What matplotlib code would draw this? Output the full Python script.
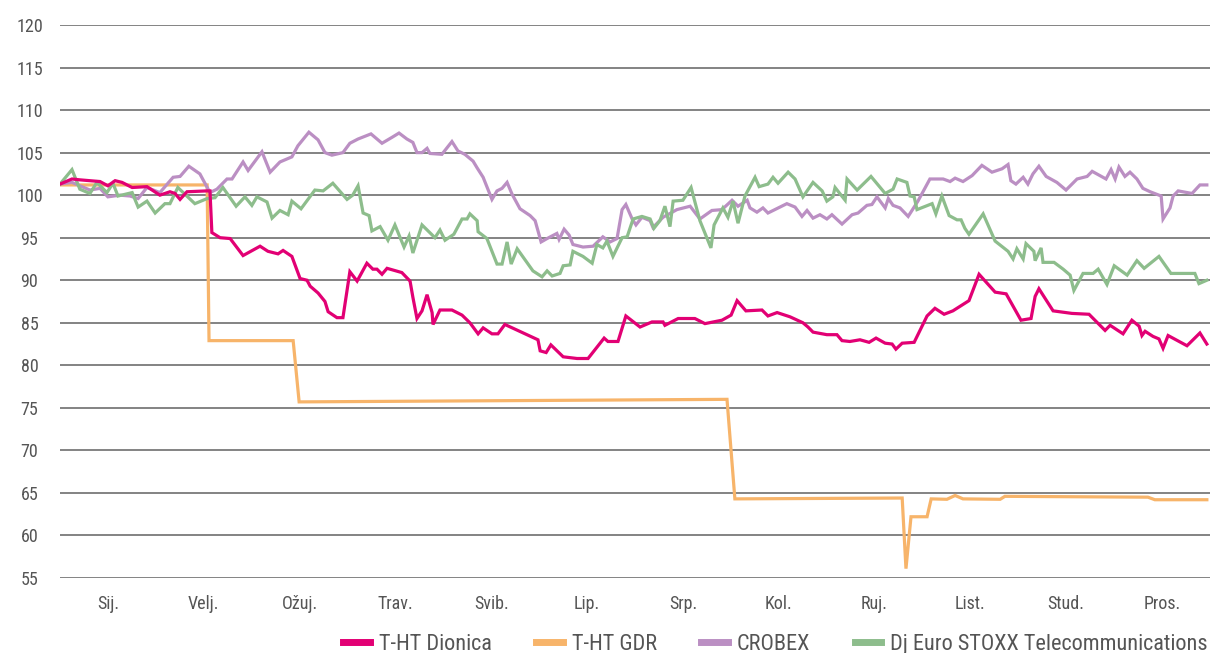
import matplotlib
matplotlib.use("Agg")
import matplotlib.pyplot as plt
from matplotlib import font_manager as fm
from matplotlib.lines import Line2D

# ---------------- data (x = day of year, y = index) ----------------
months = ["Sij.", "Velj.", "Ožuj.", "Trav.", "Svib.", "Lip.", "Srp.", "Kol.", "Ruj.", "List.", "Stud.", "Pros."]
series_names = ["T-HT Dionica", "T-HT GDR", "CROBEX", "Dj Euro STOXX Telecommunications"]

tht_x = [0, 3.8, 6.3, 12.7, 15.2, 17.5, 19.7, 22.9, 27.6, 31.7, 34.9, 36.5, 38.1, 40.3, 46.7, 47.6, 48.2,
         50.8, 54.0, 58.1, 63.5, 66.0, 69.2, 70.8, 73.6, 76.2, 78.4, 79.4, 81.9, 84.1, 85.1, 87.9, 89.8,
         92.0, 94.3, 97.4, 99.3, 100.6, 102.2, 103.8, 108.5, 111.1, 112.0, 113.3, 114.9, 116.5, 118.1,
         118.4, 120.6, 124.4, 127.6, 130.1, 132.7, 134.3, 137.1, 139.0, 141.2, 151.7, 152.4, 154.3, 155.8,
         159.7, 164.1, 167.6, 172.7, 173.9, 177.1, 179.6, 184.1, 187.9, 191.4, 192.0, 196.2, 201.5, 204.7,
         210.1, 213.0, 214.9, 217.7, 222.8, 224.7, 227.6, 231.7, 235.8, 237.4, 239.0, 243.4, 246.6, 248.2,
         250.7, 253.9, 256.8, 259.0, 261.9, 264.1, 265.3, 267.3, 271.1, 275.2, 277.7, 280.6, 283.4, 288.5,
         291.7, 296.8, 300.3, 305.0, 308.2, 309.5, 310.7, 315.2, 321.2, 326.6, 331.7, 333.3, 337.4, 340.2,
         342.5, 343.4, 344.4, 346.9, 348.8, 350.1, 351.7, 357.7, 361.8, 364.0]
tht_y = [101.3, 101.9, 101.8, 101.6, 101.1, 101.7, 101.5, 100.9, 101.0, 100.0, 100.4, 100.2, 99.5, 100.4,
         100.5, 100.5, 95.6, 95.0, 94.9, 92.9, 94.0, 93.4, 93.1, 93.5, 92.8, 90.2, 90.0, 89.3, 88.5, 87.5,
         86.3, 85.6, 85.6, 91.0, 89.9, 92.0, 91.3, 91.3, 90.7, 91.4, 90.9, 89.9, 88.0, 85.5, 86.4, 88.3,
         86.2, 84.8, 86.5, 86.5, 85.9, 85.0, 83.7, 84.4, 83.7, 83.7, 84.8, 83.0, 81.7, 81.5, 82.4, 81.0,
         80.8, 80.8, 83.2, 82.8, 82.8, 85.8, 84.5, 85.1, 85.1, 84.7, 85.5, 85.5, 84.9, 85.3, 85.9, 87.6,
         86.4, 86.5, 85.8, 86.2, 85.7, 85.0, 84.5, 83.9, 83.6, 83.6, 82.9, 82.8, 83.0, 82.7, 83.2, 82.6,
         82.5, 81.9, 82.6, 82.7, 85.8, 86.7, 86.0, 86.4, 87.6, 90.7, 88.6, 88.4, 85.3, 85.5, 88.1, 89.0,
         86.4, 86.1, 86.0, 84.1, 84.7, 83.7, 85.3, 84.6, 83.5, 84.0, 83.4, 83.1, 82.0, 83.5, 82.3, 83.8, 82.5]

gdr_x = [0, 46.7, 47.3, 74.0, 75.9, 211.7, 214.2, 267.3, 268.5, 270.1, 275.2, 276.5, 281.5, 284.1, 286.6,
         298.4, 299.9, 345.3, 347.5, 364.0]
gdr_y = [101.2, 101.2, 82.9, 82.9, 75.7, 76.0, 64.3, 64.4, 56.1, 62.2, 62.2, 64.3, 64.25, 64.7, 64.3,
         64.25, 64.6, 64.5, 64.2, 64.2]

crobex_x = [0, 3.8, 9.5, 12.7, 15.2, 19.0, 22.2, 24.8, 27.6, 31.7, 35.9, 38.1, 40.9, 44.4, 47.6, 49.8, 53.0,
            54.6, 58.1, 59.7, 64.1, 66.7, 69.8, 73.6, 75.5, 79.0, 81.9, 84.1, 86.3, 89.8, 92.0, 94.6, 98.7,
            102.2, 105.4, 107.6, 110.1, 112.0, 113.3, 114.9, 116.5, 117.4, 121.2, 124.4, 126.3, 128.5, 131.1,
            132.4, 134.3, 137.1, 138.7, 140.3, 141.9, 143.5, 146.0, 149.2, 150.8, 152.7, 154.6, 157.7, 158.4,
            160.0, 161.6, 162.8, 166.0, 169.2, 172.3, 174.6, 176.8, 178.4, 179.6, 181.6, 182.8, 184.7, 187.3,
            188.2, 191.4, 195.8, 200.0, 203.1, 206.9, 210.1, 213.3, 215.2, 218.1, 219.0, 221.2, 223.1, 224.7,
            230.7, 233.3, 235.5, 237.1, 239.0, 241.2, 243.4, 245.0, 248.2, 251.4, 253.3, 256.1, 257.7, 259.3,
            261.9, 262.9, 264.4, 266.6, 269.2, 272.3, 276.1, 280.3, 282.5, 284.1, 286.6, 289.5, 292.6, 295.8,
            299.0, 300.9, 301.8, 303.4, 305.7, 307.2, 308.8, 310.7, 313.0, 316.4, 319.3, 322.8, 326.0, 327.6,
            332.0, 333.6, 334.9, 336.1, 338.0, 339.6, 341.8, 343.7, 346.0, 349.5, 350.1, 352.3, 353.3, 354.9,
            359.3, 361.8, 364.0]
crobex_y = [101.3, 101.5, 100.6, 100.8, 99.8, 100.0, 99.9, 99.6, 100.9, 100.3, 102.1, 102.2, 103.4, 102.5,
            100.3, 100.7, 101.9, 101.9, 103.9, 102.9, 105.1, 102.7, 103.9, 104.5, 105.8, 107.4, 106.5, 105.0,
            104.7, 105.0, 106.1, 106.6, 107.2, 106.1, 106.8, 107.3, 106.6, 106.2, 105.0, 105.0, 105.5, 104.9,
            104.8, 106.3, 105.2, 104.8, 104.0, 103.2, 102.1, 99.5, 100.5, 100.8, 101.5, 100.1, 98.4, 97.6,
            97.0, 94.5, 94.9, 95.5, 94.8, 96.0, 95.3, 94.2, 93.9, 94.0, 95.1, 94.5, 94.9, 98.3, 98.9, 97.2,
            96.5, 97.4, 97.0, 96.2, 97.4, 98.3, 98.7, 97.2, 98.2, 98.3, 99.4, 98.7, 99.4, 98.5, 98.0, 98.5,
            97.9, 99.0, 98.6, 97.5, 98.2, 97.3, 97.7, 97.2, 97.7, 96.6, 97.7, 97.9, 98.8, 98.9, 99.8, 98.5,
            99.6, 98.8, 98.5, 97.5, 99.3, 101.9, 101.9, 101.6, 102.0, 101.6, 102.3, 103.5, 102.7, 103.1,
            103.6, 101.7, 101.3, 102.1, 101.3, 102.5, 103.4, 102.2, 101.5, 100.6, 101.9, 102.2, 102.8, 101.9,
            103.0, 101.9, 103.3, 102.2, 102.7, 101.9, 100.8, 100.4, 99.9, 97.2, 98.5, 99.9, 100.5, 100.2,
            101.2, 101.2]

stoxx_x = [0, 3.8, 6.3, 9.5, 11.7, 14.9, 16.8, 18.4, 22.9, 24.8, 27.6, 30.2, 33.3, 34.9, 37.4, 42.8, 46.7,
           49.2, 51.7, 55.9, 58.7, 60.9, 62.5, 65.7, 67.3, 69.8, 72.4, 73.6, 76.5, 80.9, 83.5, 86.6, 91.1,
           92.9, 94.6, 96.2, 98.1, 99.0, 101.6, 104.1, 106.3, 109.2, 110.8, 112.0, 114.9, 119.0, 120.6, 122.2,
           125.0, 127.6, 129.2, 130.1, 132.4, 132.7, 135.5, 138.7, 140.3, 141.9, 143.2, 145.1, 150.1, 153.0,
           154.6, 156.2, 158.7, 159.7, 161.9, 162.8, 166.0, 168.9, 170.4, 172.3, 173.6, 175.5, 178.4, 180.0,
           181.9, 184.7, 187.3, 188.5, 190.4, 192.0, 193.6, 194.6, 197.7, 200.3, 203.1, 206.6, 207.6, 210.4,
           212.0, 213.6, 215.2, 217.4, 220.6, 221.9, 224.7, 226.3, 227.9, 231.1, 233.3, 235.8, 239.0, 241.9,
           243.4, 245.3, 246.0, 249.2, 249.8, 253.0, 257.4, 261.9, 264.4, 265.7, 268.8, 269.8, 271.1, 272.0,
           276.8, 278.0, 279.9, 282.2, 284.7, 286.0, 287.2, 288.5, 293.0, 296.8, 300.9, 302.5, 303.7, 305.7,
           306.6, 309.1, 309.5, 311.4, 312.0, 315.5, 318.4, 320.6, 321.8, 324.7, 327.9, 329.5, 332.3, 334.6,
           338.7, 341.8, 344.1, 348.8, 352.6, 360.2, 361.5, 364.0]
stoxx_y = [101.3, 103.0, 100.7, 100.2, 101.5, 100.3, 101.4, 99.9, 100.3, 98.6, 99.3, 97.9, 99.0, 99.0, 100.9,
           99.0, 99.6, 99.7, 100.9, 98.7, 99.8, 98.8, 99.8, 99.2, 97.3, 98.2, 97.7, 99.3, 98.4, 100.6, 100.5,
           101.4, 99.5, 100.0, 101.1, 97.9, 97.6, 95.8, 96.3, 94.7, 96.5, 93.9, 95.2, 93.2, 96.5, 95.0, 95.9,
           94.7, 95.4, 97.2, 97.2, 97.8, 97.0, 95.7, 94.9, 91.9, 91.9, 94.5, 91.9, 93.7, 91.1, 90.4, 91.1,
           90.5, 90.8, 91.7, 91.8, 93.4, 92.8, 92.0, 94.2, 93.8, 94.6, 92.8, 95.0, 95.1, 97.2, 97.5, 97.2,
           96.1, 97.0, 98.7, 96.3, 99.3, 99.4, 100.9, 97.0, 93.8, 96.5, 98.5, 97.4, 99.3, 96.7, 99.9, 102.1,
           101.0, 101.3, 102.1, 101.4, 102.7, 101.9, 99.8, 101.5, 100.5, 99.3, 99.8, 100.9, 99.4, 101.9,
           100.6, 102.2, 100.2, 100.7, 101.9, 101.5, 99.9, 99.8, 98.3, 99.0, 97.8, 99.9, 97.6, 97.1, 97.1,
           96.1, 95.4, 97.8, 94.6, 93.4, 92.5, 93.7, 92.5, 94.3, 93.4, 92.3, 93.8, 92.1, 92.1, 91.3, 90.6,
           88.8, 90.8, 90.8, 91.3, 89.5, 91.7, 90.6, 92.3, 91.4, 92.8, 90.8, 90.8, 89.6, 90.0]

y_ticks = list(range(55, 121, 5))

# ---------------- styling ----------------
colors = ["#E20074", "#F7B46A", "#BB8FC3", "#8DBD8C"]

available = {f.name for f in fm.fontManager.ttflist}
family = "DejaVu Sans"
for cand in ["Liberation Sans Narrow", "Roboto Condensed", "Roboto", "Liberation Sans"]:
    if cand in available:
        family = cand
        break
plt.rcParams["font.family"] = [family, "DejaVu Sans"]

fig = plt.figure(figsize=(12.11, 6.53), dpi=100)
ax = fig.add_axes([60 / 1211, 75 / 653, 1150 / 1211, 553 / 653])

for yv in y_ticks:
    ax.axhline(yv, color="#6e6e6e", lw=1.2, zorder=1)

xs = [tht_x, gdr_x, crobex_x, stoxx_x]
ys = [tht_y, gdr_y, crobex_y, stoxx_y]
order = [1, 2, 3, 0]
for i in order:
    ax.plot(xs[i], ys[i], color=colors[i], lw=2.3, zorder=3 + (i == 0),
            solid_joinstyle="miter")

ax.set_xlim(0, 365)
ax.set_ylim(55, 120)
ax.set_yticks(y_ticks)
ax.set_yticklabels([str(v) for v in y_ticks])
ax.set_xticks([(i + 0.5) * 365 / 12 for i in range(12)])
ax.set_xticklabels(months)
ax.tick_params(axis="both", length=0, labelsize=13, colors="#555555")
ax.tick_params(axis="y", pad=22)
for lab in ax.get_yticklabels():
    lab.set_horizontalalignment("center")
ax.tick_params(axis="x", pad=12)
for s in ax.spines.values():
    s.set_visible(False)

handles = [Line2D([0], [0], color=c, lw=5) for c in colors]
fig.legend(handles, series_names, loc="lower right", bbox_to_anchor=(1.014, -0.034), ncol=4,
           frameon=False, fontsize=16, handlelength=1.2, handletextpad=0.4, columnspacing=2.0,
           labelcolor="#555555")

fig.savefig("out.png", dpi=100)
